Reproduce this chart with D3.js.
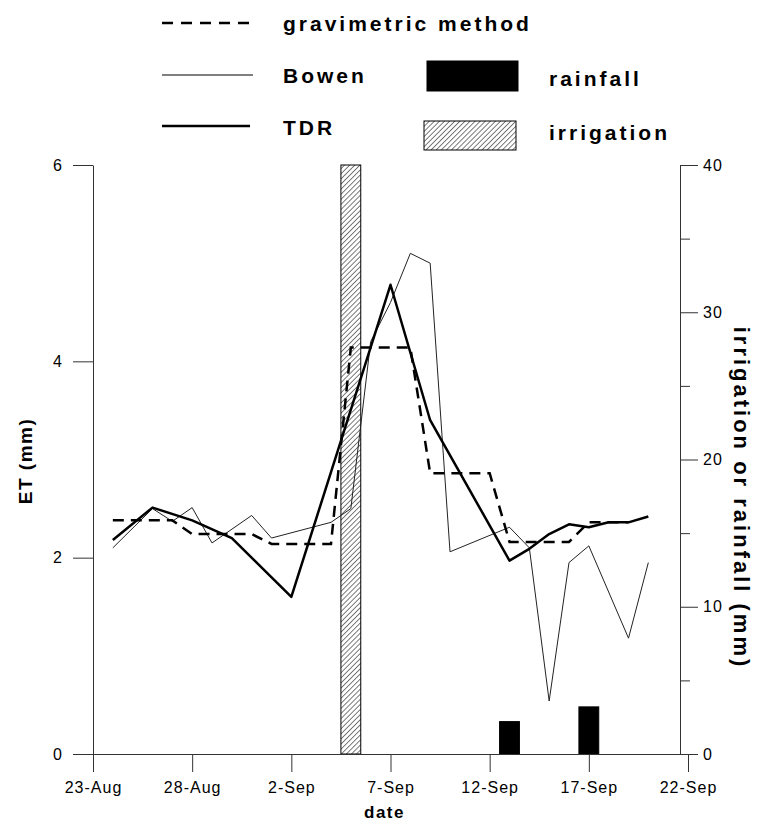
<!DOCTYPE html>
<html>
<head>
<meta charset="utf-8">
<script src="https://cdn.jsdelivr.net/npm/d3@7"></script>
<style>
  body { margin: 0; background: #fff; }
  svg { display: block; font-family: "Liberation Sans", Arial, sans-serif; }
</style>
</head>
<body>
<div id="chart"></div>
<script>
// x axis tick labels
const dateTicks = ["23-Aug", "28-Aug", "2-Sep", "7-Sep", "12-Sep", "17-Sep", "22-Sep"];
const etTicks = [0, 2, 4, 6];
const mmTicks = [0, 10, 20, 30, 40];
const mmMinorTicks = [5, 15, 25, 35];

// ET series (mm)
const gravDates = ["24-Aug", "27-Aug", "28-Aug", "31-Aug", "1-Sep", "4-Sep", "5-Sep", "8-Sep",
  "9-Sep", "12-Sep", "13-Sep", "16-Sep", "17-Sep", "19-Sep"];
const gravET = [2.38, 2.38, 2.24, 2.24, 2.14, 2.14, 4.14, 4.14, 2.86, 2.86, 2.16, 2.16, 2.36, 2.36];

const bowenDates = ["24-Aug", "26-Aug", "27-Aug", "28-Aug", "29-Aug", "31-Aug", "1-Sep", "4-Sep",
  "5-Sep", "6-Sep", "7-Sep", "8-Sep", "9-Sep", "10-Sep", "13-Sep", "14-Sep", "15-Sep", "16-Sep",
  "17-Sep", "19-Sep", "20-Sep"];
const bowenET = [2.1, 2.5, 2.37, 2.51, 2.15, 2.43, 2.2, 2.36, 2.5, 4.2, 4.6, 5.1, 5.0, 2.06,
  2.31, 2.1, 0.54, 1.95, 2.12, 1.18, 1.95];

const tdrDates = ["24-Aug", "26-Aug", "28-Aug", "30-Aug", "2-Sep", "7-Sep", "9-Sep", "13-Sep",
  "14-Sep", "15-Sep", "16-Sep", "17-Sep", "18-Sep", "19-Sep", "20-Sep"];
const tdrET = [2.18, 2.51, 2.38, 2.2, 1.6, 4.78, 3.4, 1.97, 2.09, 2.24, 2.34, 2.31, 2.36, 2.36, 2.42];

// water input (mm)
const rainDates = ["13-Sep", "17-Sep"];
const rainMM = [2.2, 3.2];
const irrigDates = ["5-Sep"];
const irrigMM = [40];

const parse = d3.utcParse("%d-%b");
const W = 758, H = 824;
const plotLeft = 93, plotRight = 680, plotTop = 165, plotBottom = 754;

const svg = d3.select("#chart").append("svg")
  .attr("width", W)
  .attr("height", H);

const x = d3.scaleUtc()
  .domain([parse("23-Aug"), parse("22-Sep")])
  .range([plotLeft, 688]);
const yET = d3.scaleLinear().domain([0, 6]).range([plotBottom, plotTop]);
const yMM = d3.scaleLinear().domain([0, 40]).range([plotBottom, plotTop]);

const zip = (dates, vals) => dates.map((d, i) => ({ date: parse(d), v: vals[i] }));
const oneDay = 24 * 3600 * 1000;

// hatch for irrigation
const defs = svg.append("defs");
const pat = defs.append("pattern")
  .attr("id", "hatch")
  .attr("patternUnits", "userSpaceOnUse")
  .attr("width", 3.6)
  .attr("height", 3.6)
  .attr("patternTransform", "rotate(45)");
pat.append("rect").attr("width", 3.6).attr("height", 3.6).attr("fill", "#fff");
pat.append("line")
  .attr("x1", 0).attr("y1", 0).attr("x2", 0).attr("y2", 3.6)
  .attr("stroke", "#222").attr("stroke-width", 1.2);

// bars
function bars(data, fill) {
  svg.append("g").selectAll("rect")
    .data(data)
    .join("rect")
      .attr("x", d => x(new Date(+d.date - oneDay / 2)))
      .attr("width", d => x(new Date(+d.date + oneDay / 2)) - x(new Date(+d.date - oneDay / 2)))
      .attr("y", d => yMM(d.v))
      .attr("height", d => plotBottom - yMM(d.v))
      .attr("fill", fill)
      .attr("stroke", "#000")
      .attr("stroke-width", 1);
}
bars(zip(irrigDates, irrigMM), "url(#hatch)");
bars(zip(rainDates, rainMM), "#000");

// lines
const line = d3.line().x(d => x(d.date)).y(d => yET(d.v));
svg.append("path")
  .datum(zip(bowenDates, bowenET))
  .attr("d", line)
  .attr("fill", "none")
  .attr("stroke", "#222")
  .attr("stroke-width", 1);
svg.append("path")
  .datum(zip(gravDates, gravET))
  .attr("d", line)
  .attr("fill", "none")
  .attr("stroke", "#000")
  .attr("stroke-width", 2.5)
  .attr("stroke-dasharray", "11,7");
svg.append("path")
  .datum(zip(tdrDates, tdrET))
  .attr("d", line)
  .attr("fill", "none")
  .attr("stroke", "#000")
  .attr("stroke-width", 2.5)
  .attr("stroke-linejoin", "round");

// axes
function styleAxis(g, size) {
  g.selectAll("path, line").attr("stroke", "#333").attr("stroke-width", 1);
  g.selectAll("text")
    .attr("fill", "#000")
    .style("font-size", size + "px")
    .style("letter-spacing", "1px")
    .style("font-family", '"Liberation Sans", Arial, sans-serif');
}

svg.append("g")
  .attr("transform", `translate(0,${plotBottom})`)
  .call(d3.axisBottom(x)
    .tickValues(dateTicks.map(parse))
    .tickFormat(d3.utcFormat("%-d-%b"))
    .tickSize(18)
    .tickSizeOuter(0)
    .tickPadding(10))
  .call(g => styleAxis(g, 16));

svg.append("g")
  .attr("transform", `translate(${plotLeft},0)`)
  .call(d3.axisLeft(yET)
    .tickValues(etTicks)
    .tickFormat(d3.format("d"))
    .tickSize(20)
    .tickSizeOuter(0)
    .tickPadding(10))
  .call(g => styleAxis(g, 16));

svg.append("g")
  .attr("transform", `translate(${plotRight},0)`)
  .call(d3.axisRight(yMM)
    .tickValues(mmTicks)
    .tickFormat(d3.format("d"))
    .tickSize(18)
    .tickSizeOuter(0)
    .tickPadding(5))
  .call(g => styleAxis(g, 16));

svg.append("g")
  .attr("transform", `translate(${plotRight},0)`)
  .call(d3.axisRight(yMM)
    .tickValues(mmMinorTicks)
    .tickFormat("")
    .tickSize(10)
    .tickSizeOuter(0))
  .call(g => g.select(".domain").remove())
  .call(g => styleAxis(g, 16));

// axis titles
svg.append("text")
  .attr("x", (plotLeft + plotRight) / 2 - 2)
  .attr("y", 818)
  .attr("text-anchor", "middle")
  .style("font-size", "17px")
  .style("font-weight", "bold")
  .style("letter-spacing", "1.5px")
  .text("date");

svg.append("text")
  .attr("transform", "translate(32,461) rotate(-90)")
  .attr("text-anchor", "middle")
  .style("font-size", "19px")
  .style("font-weight", "bold")
  .style("letter-spacing", "1.5px")
  .text("ET (mm)");

svg.append("text")
  .attr("transform", "translate(734,498) rotate(90)")
  .attr("text-anchor", "middle")
  .style("font-size", "22px")
  .style("font-weight", "bold")
  .style("letter-spacing", "3px")
  .text("irrigation or rainfall (mm)");

// legend
const legendLines = [
  { label: "gravimetric method", y: 23, width: 2.5, dash: "11,8", len: 93, base: 31 },
  { label: "Bowen", y: 75, width: 1, dash: null, len: 91, base: 83 },
  { label: "TDR", y: 126, width: 2.5, dash: null, len: 88, base: 135 }
];
const lg = svg.append("g");
legendLines.forEach(d => {
  lg.append("line")
    .attr("x1", 162).attr("x2", 162 + d.len)
    .attr("y1", d.y).attr("y2", d.y)
    .attr("stroke", "#000")
    .attr("stroke-width", d.width)
    .attr("stroke-dasharray", d.dash);
  lg.append("text")
    .attr("x", 283).attr("y", d.base)
    .style("font-size", "21px")
    .style("font-weight", "bold")
    .style("letter-spacing", "3px")
    .text(d.label);
});
const legendBars = [
  { label: "rainfall", fill: "#000", x: 427, y: 61, w: 91, h: 30, base: 86 },
  { label: "irrigation", fill: "url(#hatch)", x: 424, y: 121, w: 92, h: 29, base: 140 }
];
legendBars.forEach(d => {
  lg.append("rect")
    .attr("x", d.x).attr("y", d.y)
    .attr("width", d.w).attr("height", d.h)
    .attr("fill", d.fill)
    .attr("stroke", "#000");
  lg.append("text")
    .attr("x", 549).attr("y", d.base)
    .style("font-size", "21px")
    .style("font-weight", "bold")
    .style("letter-spacing", "3px")
    .text(d.label);
});
</script>
</body>
</html>
